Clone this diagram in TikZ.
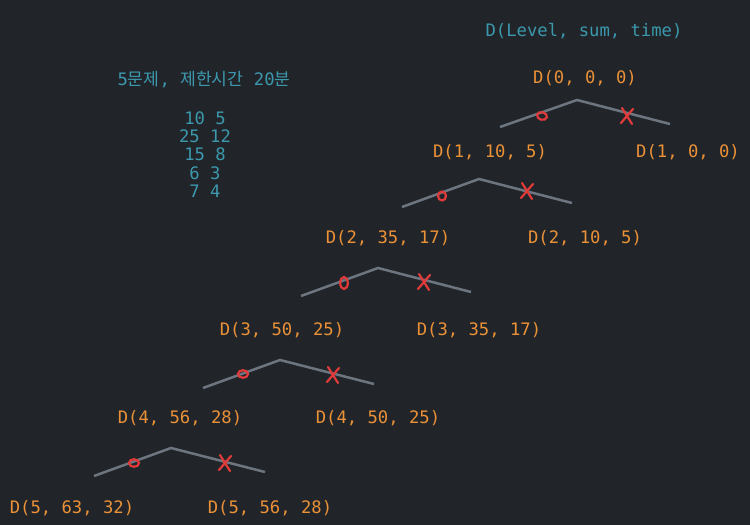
\documentclass[tikz,border=0pt]{standalone}
\usepackage{fontspec}
\setmonofont{DejaVu Sans Mono}
\newfontfamily\kor{Noto Sans CJK KR}
\definecolor{sfondo}{HTML}{212529}
\definecolor{arancio}{HTML}{EB9137}
\definecolor{azzurro}{HTML}{3C98AD}
\definecolor{grigio}{HTML}{6C7580}
\definecolor{rosso}{HTML}{E03A3A}
\tikzset{
  stato/.style={text=arancio,font=\ttfamily\fontsize{17.2}{18.3}\selectfont},
  nota/.style={stato,text=azzurro},
  ramo/.style={draw=grigio,line width=2.5pt},
  segno/.style={draw=rosso,line width=2.2pt,line cap=round}
}
\begin{document}
\begin{tikzpicture}[x=1pt,y=-1pt]
  \fill[sfondo] (0,0) rectangle (750,525);
  \useasboundingbox (0,0) rectangle (750,525);
  %note
  \node[nota] (titolo) at (584,31) {D(Level, sum, time)};
  \node[nota] (problema) at (204,80) {5\kor 문제\ttfamily, \kor 제한시간\ttfamily{} 20\kor 분};
  \node[nota,align=center] (dati) at (205,154.5) {10 5\\25 12\\15 8\\6 3\\7 4};
  %livello 0
  \node[stato] (d0) at (585,78) {D(0, 0, 0)};
  \coordinate (a0) at (577,100);
  \coordinate (sx0) at (500,127);
  \coordinate (dx0) at (670,124);
  \draw[ramo] (sx0) -- (a0) -- (dx0);
  \draw[segno,rotate around={-15:(542,116)}] (542,116) ellipse (5pt and 3.8pt);
  \draw[segno] (627,116) +(-5,-8) -- +(5,8) +(6,-7) -- +(-6,7);
  %livello 1
  \node[stato] (d1s) at (490,152) {D(1, 10, 5)};
  \node[stato] (d1d) at (688,152) {D(1, 0, 0)};
  \coordinate (a1) at (479,179);
  \coordinate (sx1) at (402,207);
  \coordinate (dx1) at (572,203);
  \draw[ramo] (sx1) -- (a1) -- (dx1);
  \draw[segno] (442,196) ellipse (4pt and 4.5pt);
  \draw[segno] (527,191) +(-5,-8) -- +(5,8) +(6,-7) -- +(-6,7);
  %livello 2
  \node[stato] (d2s) at (388,238) {D(2, 35, 17)};
  \node[stato] (d2d) at (585,238) {D(2, 10, 5)};
  \coordinate (a2) at (378,268);
  \coordinate (sx2) at (301,296);
  \coordinate (dx2) at (471,292);
  \draw[ramo] (sx2) -- (a2) -- (dx2);
  \draw[segno] (344,283) ellipse (3.8pt and 6pt);
  \draw[segno] (424,282) +(-5,-8) -- +(5,8) +(6,-7) -- +(-6,7);
  %livello 3
  \node[stato] (d3s) at (282,330) {D(3, 50, 25)};
  \node[stato] (d3d) at (479,330) {D(3, 35, 17)};
  \coordinate (a3) at (280,360);
  \coordinate (sx3) at (203,388);
  \coordinate (dx3) at (374,384);
  \draw[ramo] (sx3) -- (a3) -- (dx3);
  \draw[segno] (243,374) ellipse (5pt and 3.8pt);
  \draw[segno] (333,375) +(-5,-8) -- +(5,8) +(6,-7) -- +(-6,7);
  %livello 4
  \node[stato] (d4s) at (180,418) {D(4, 56, 28)};
  \node[stato] (d4d) at (378,418) {D(4, 50, 25)};
  \coordinate (a4) at (171,448);
  \coordinate (sx4) at (94,476);
  \coordinate (dx4) at (265,472);
  \draw[ramo] (sx4) -- (a4) -- (dx4);
  \draw[segno] (134,463) ellipse (5pt and 3.8pt);
  \draw[segno] (225,463) +(-5,-8) -- +(5,8) +(6,-7) -- +(-6,7);
  %livello 5
  \node[stato] (d5s) at (72,508) {D(5, 63, 32)};
  \node[stato] (d5d) at (270,508) {D(5, 56, 28)};
\end{tikzpicture}
\end{document}
